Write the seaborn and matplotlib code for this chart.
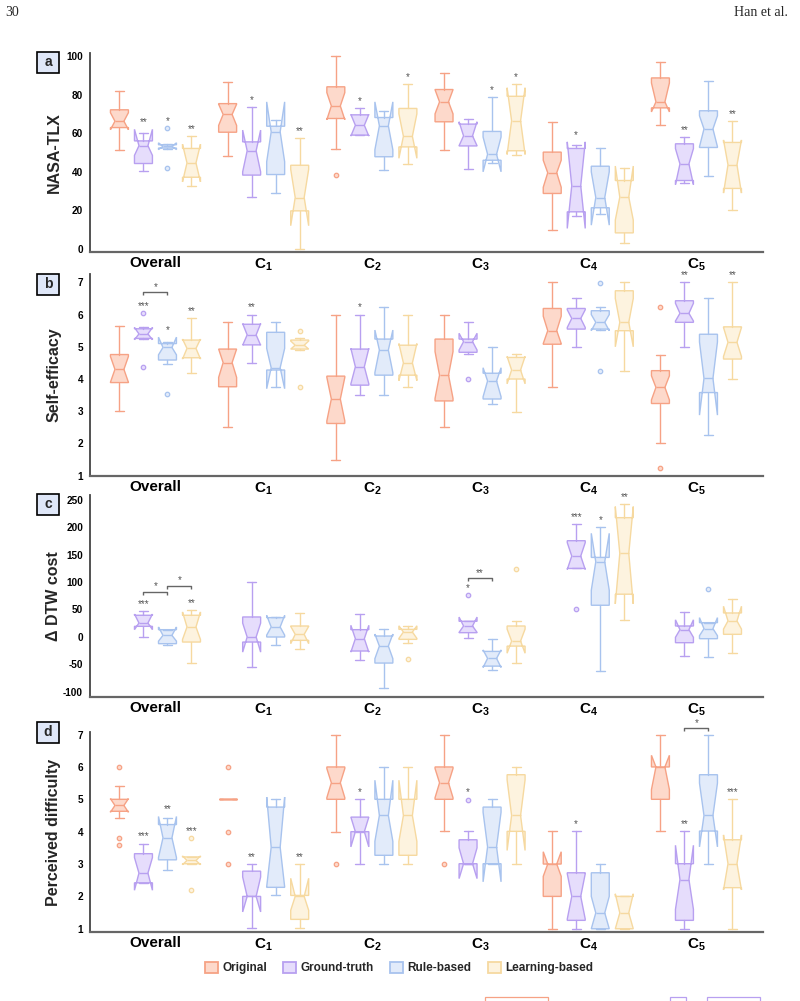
import matplotlib
matplotlib.use("Agg")
import matplotlib.pyplot as plt
import seaborn as sns
from matplotlib.patches import Patch, Rectangle

sns.set_theme(style="white")
plt.rcParams["font.family"] = ["Liberation Sans", "DejaVu Sans"]
plt.rcParams["mathtext.fontset"] = "custom"
plt.rcParams["mathtext.rm"] = "Liberation Sans"
plt.rcParams["mathtext.bf"] = "Liberation Sans:bold"
plt.rcParams["mathtext.it"] = "Liberation Sans:italic"

# ---------------- data ----------------
group_labels = ["Overall", r"$\mathbf{C_1}$", r"$\mathbf{C_2}$", r"$\mathbf{C_3}$",
                r"$\mathbf{C_4}$", r"$\mathbf{C_5}$"]
methods = ["Original", "Ground-truth", "Rule-based", "Learning-based"]

# Panel a: NASA-TLX  (rows: Overall, C1..C5; cols: Original, Ground-truth, Rule-based, Learning-based)
tlx_lo = [[51.4, 40.3, 52.0, 32.6], [48.3, 26.9, 29.1, 0.0], [51.6, 58.9, 40.9, 43.8],
          [51.2, 41.7, 44.7, 48.6], [9.8, 17.2, 18.4, 3.4], [64.1, 34.1, 37.8, 20.3]]
tlx_q1 = [[62.9, 44.3, 52.3, 37.2], [60.5, 38.3, 38.6, 19.8], [67.6, 59.0, 47.8, 52.9],
          [65.9, 53.4, 46.0, 50.9], [28.8, 19.3, 21.4, 8.4], [73.1, 35.5, 52.6, 31.4]]
tlx_med = [[66.2, 53.5, 53.2, 44.6], [69.7, 50.9, 60.7, 26.7], [74.1, 64.1, 63.8, 58.4],
           [76.2, 58.6, 49.1, 66.4], [39.5, 32.8, 26.7, 26.9], [76.2, 44.1, 62.2, 43.6]]
tlx_q3 = [[72.1, 56.0, 54.0, 52.1], [75.3, 55.5, 63.6, 43.4], [84.0, 69.5, 68.1, 72.8],
          [82.6, 64.7, 60.9, 79.1], [50.2, 52.1, 42.9, 35.5], [88.6, 54.5, 71.6, 55.2]]
tlx_hi = [[81.9, 60.2, 54.3, 58.6], [86.6, 73.4, 66.7, 57.6], [100.0, 72.8, 71.4, 85.5],
          [91.2, 67.4, 78.8, 85.5], [66.0, 53.8, 52.4, 42.1], [96.6, 58.1, 87.1, 66.4]]
tlx_cilo = [[61.8, 48.5, 51.5, 34.8], [64.0, 40.0, 45.2, 12.1], [67.0, 58.5, 51.4, 47.0],
            [70.0, 53.5, 40.0, 49.0], [32.0, 10.7, 12.4, 15.0], [71.0, 33.4, 53.0, 29.0]]
tlx_cihi = [[70.6, 62.0, 55.0, 54.3], [75.0, 61.6, 76.2, 41.3], [81.0, 69.7, 76.2, 70.0],
            [82.5, 65.9, 58.0, 83.5], [46.0, 55.5, 40.0, 43.0], [86.0, 52.0, 69.0, 56.5]]
tlx_fliers = [(0, 2, 62.8), (0, 2, 41.8), (2, 0, 38.1)]
tlx_stars = [(0, 1, "**"), (0, 2, "*"), (0, 3, "**"), (1, 1, "*"), (1, 3, "**"),
             (2, 1, "*"), (2, 3, "*"), (3, 2, "*"), (3, 3, "*"), (4, 1, "*"),
             (5, 1, "**"), (5, 3, "**")]
tlx_brackets = []

# Panel b: Self-efficacy
se_lo = [[3.0, 5.25, 4.46, 4.2], [2.5, 4.5, 3.76, 4.9], [1.5, 3.5, 3.5, 3.76],
         [2.5, 4.78, 3.24, 2.99], [3.76, 5.0, 5.52, 4.25], [2.0, 5.0, 2.26, 4.01]]
se_q1 = [[3.89, 5.26, 4.59, 4.66], [3.76, 5.06, 4.28, 4.93], [2.62, 3.81, 4.12, 4.12],
         [3.32, 4.83, 3.38, 4.0], [5.08, 5.55, 5.55, 5.5], [3.24, 5.76, 3.58, 4.62]]
se_med = [[4.30, 5.40, 4.98, 4.95], [4.51, 5.37, 4.35, 5.05], [3.38, 4.38, 4.9, 4.5],
          [4.12, 5.16, 3.94, 4.28], [5.5, 5.88, 5.76, 5.76], [3.74, 6.04, 4.02, 5.14]]
se_q3 = [[4.76, 5.56, 5.1, 5.21], [4.93, 5.7, 5.45, 5.21], [4.09, 4.93, 5.24, 5.05],
         [5.24, 5.24, 4.18, 4.67], [6.19, 6.19, 6.12, 6.74], [4.26, 6.43, 5.39, 5.62]]
se_hi = [[5.66, 5.6, 5.16, 5.9], [5.76, 6.0, 5.76, 5.26], [6.0, 6.0, 6.24, 6.0],
         [6.0, 5.76, 5.0, 4.77], [7.0, 6.5, 6.24, 7.0], [4.74, 7.0, 6.5, 7.0]]
se_cilo = [[3.9, 5.22, 4.75, 4.62], [4.05, 5.05, 3.7, 4.93], [2.7, 3.85, 4.2, 3.95],
           [3.4, 4.9, 3.45, 3.85], [5.1, 5.6, 5.5, 5.0], [3.35, 5.8, 2.88, 4.7]]
se_cihi = [[4.7, 5.6, 5.3, 5.24], [4.93, 5.72, 4.95, 5.18], [4.05, 4.95, 5.52, 5.1],
           [4.85, 5.42, 4.35, 4.7], [5.95, 6.15, 6.0, 6.5], [4.1, 6.35, 5.15, 5.6]]
se_fliers = [(0, 1, 6.05), (0, 1, 4.37), (0, 2, 3.53), (1, 3, 5.49), (1, 3, 3.74),
             (3, 1, 4.0), (4, 2, 6.99), (4, 2, 4.25), (5, 0, 6.23), (5, 0, 1.24)]
se_stars = [(0, 1, "***"), (0, 2, "*"), (0, 3, "**"), (1, 1, "**"), (2, 1, "*"),
            (5, 1, "**"), (5, 3, "**")]
se_brackets = [(0, 1, 2, 6.69, "*")]

# Panel c: delta DTW cost (no Original)
dtw_lo = [[None, -0.4, -15.7, -48.0], [None, -55.4, -14.5, -21.8], [None, -43.2, -93.9, -10.8],
          [None, -2.3, -60.3, -48.0], [None, 124.8, -62.7, 30.1], [None, -35.3, -37.1, -29.7]]
dtw_q1 = [[None, 19.1, -12.6, -9.6], [None, -9.6, -0.4, -6.5], [None, -26.0, -48.0, -4.7],
          [None, 7.5, -53.6, -17.0], [None, 124.8, 57.6, 77.8], [None, -10.8, -3.5, 4.5]]
dtw_med = [[None, 25.2, 2.6, 17.9], [None, -0.4, 17.9, 4.5], [None, -3.5, -17.0, 8.7],
           [None, 19.7, -39.5, -7.8], [None, 147.4, 137.0, 152.3], [None, 13.0, 14.8, 28.9]]
dtw_q3 = [[None, 39.3, 13.0, 39.3], [None, 36.2, 35.0, 19.7], [None, 13.0, 1.4, 13.6],
          [None, 28.3, -26.7, 19.7], [None, 175.5, 145.0, 217.6], [None, 19.7, 25.8, 43.5]]
dtw_hi = [[None, 47.2, 13.0, 48.4], [None, 100.4, 36.2, 43.5], [None, 42.3, 13.6, 19.7],
          [None, 28.3, -4.1, 28.3], [None, 206.0, 200.0, 242.0], [None, 45.4, 25.8, 69.8]]
dtw_cilo = [[None, 13.0, -8.0, -5.0], [None, -28.0, 3.0, -12.6], [None, -28.0, -40.0, -3.0],
            [None, 8.0, -56.0, -30.0], [None, 123.0, 85.0, 60.0], [None, -1.0, 2.0, 14.0]]
dtw_cihi = [[None, 41.5, 17.9, 45.4], [None, 25.0, 39.0, 19.0], [None, 21.0, 5.0, 20.0],
            [None, 36.0, -24.0, 14.0], [None, 172.0, 189.0, 237.8], [None, 31.0, 35.0, 55.8]]
dtw_fliers = [(2, 3, -40.1), (3, 1, 75.9), (3, 3, 123.6), (4, 1, 51.5), (5, 2, 86.9)]
dtw_stars = [(0, 1, "***"), (0, 3, "**"), (3, 1, "*"), (4, 1, "***"), (4, 2, "*"), (4, 3, "**")]
dtw_brackets = [(0, 1, 2, 81.4, "*"), (0, 2, 3, 93.6, "*"), (3, 1, 2, 106.5, "**")]

# Panel d: Perceived difficulty
pd_lo = [[4.42, 2.42, 2.82, 3.01], [5.0, 1.03, 2.03, 1.03], [3.99, 2.99, 2.99, 2.99],
         [4.01, 3.01, 3.01, 3.01], [1.0, 1.0, 1.0, 1.0], [4.01, 1.0, 3.01, 1.0]]
pd_q1 = [[4.63, 2.42, 3.13, 3.01], [5.0, 2.0, 2.28, 1.29], [5.0, 4.0, 3.27, 3.27],
         [5.0, 3.01, 3.01, 4.01], [2.0, 1.26, 1.0, 1.0], [5.0, 1.26, 4.02, 2.27]]
pd_med = [[4.81, 2.72, 3.81, 3.11], [5.0, 2.0, 3.52, 2.0], [5.51, 4.0, 4.5, 4.5],
          [5.51, 3.01, 3.53, 4.5], [3.0, 2.0, 1.49, 1.49], [6.0, 2.52, 4.5, 3.01]]
pd_q3 = [[5.0, 3.32, 4.22, 3.22], [5.0, 2.78, 4.76, 2.03], [6.0, 4.45, 5.0, 5.0],
         [6.0, 3.75, 4.76, 5.76], [3.0, 2.73, 2.73, 2.0], [6.0, 3.01, 5.76, 3.75]]
pd_hi = [[5.41, 3.63, 4.43, 3.22], [5.0, 3.01, 5.02, 3.01], [7.0, 5.0, 6.0, 6.0],
         [7.0, 4.01, 5.0, 6.0], [4.01, 4.01, 3.01, 2.0], [7.0, 4.01, 7.0, 5.0]]
pd_cilo = [[4.6, 2.19, 3.2, 2.98], [5.0, 1.52, 2.3, 1.57], [5.05, 3.53, 3.7, 3.7],
           [5.05, 2.55, 2.45, 3.42], [2.62, 1.3, 1.0, 1.0], [5.3, 1.6, 3.53, 2.2]]
pd_cihi = [[5.02, 3.2, 4.47, 3.25], [5.0, 2.6, 5.07, 2.56], [5.95, 4.45, 5.59, 5.59],
           [5.95, 3.5, 4.6, 5.6], [3.38, 2.7, 2.0, 2.08], [6.36, 3.58, 5.5, 3.9]]
pd_fliers = [(0, 0, 6.0), (0, 0, 3.8), (0, 0, 3.6), (0, 3, 3.8), (0, 3, 2.21),
             (1, 0, 6.0), (1, 0, 4.0), (1, 0, 3.0), (2, 0, 2.99), (3, 0, 2.99), (3, 1, 4.99)]
pd_stars = [(0, 1, "***"), (0, 2, "**"), (0, 3, "***"), (1, 1, "**"), (1, 3, "**"),
            (2, 1, "*"), (3, 1, "*"), (4, 1, "*"), (5, 1, "**"), (5, 3, "***")]
pd_brackets = [(5, 1, 2, 7.19, "*")]

# ---------------- style ----------------
edge_colors = ["#f6a285", "#b8a0f0", "#a8c3ee", "#f6d9a0"]
fill_colors = ["#fdd9cb", "#e6ddfc", "#e2ebfa", "#fdf3df"]
star_color = "#555555"

W, H = 800, 1001
fig = plt.figure(figsize=(W / 100, H / 100), dpi=100)

GAP = 0.222   # box spacing within group (in group units)
BW = 0.166    # box width

def px_axes(left, top, right, bottom):
    return [left / W, 1 - bottom / H, (right - left) / W, (bottom - top) / H]

panels = [
    dict(name="a", ylabel="NASA-TLX", rect=px_axes(90, 53, 763, 252), ylim=(-1.5, 101.5),
         yticks=[0, 20, 40, 60, 80, 100], lo=tlx_lo, q1=tlx_q1, med=tlx_med, q3=tlx_q3,
         hi=tlx_hi, cilo=tlx_cilo, cihi=tlx_cihi, fliers=tlx_fliers, stars=tlx_stars,
         brackets=tlx_brackets, label_y=62.5),
    dict(name="b", ylabel="Self-efficacy", rect=px_axes(90, 274, 763, 476), ylim=(0.99, 7.26),
         yticks=[1, 2, 3, 4, 5, 6, 7], lo=se_lo, q1=se_q1, med=se_med, q3=se_q3,
         hi=se_hi, cilo=se_cilo, cihi=se_cihi, fliers=se_fliers, stars=se_stars,
         brackets=se_brackets, label_y=284),
    dict(name="c", ylabel="\u0394 DTW cost", rect=px_axes(90, 495, 763, 697), ylim=(-110, 259),
         yticks=[-100, -50, 0, 50, 100, 150, 200, 250], lo=dtw_lo, q1=dtw_q1, med=dtw_med,
         q3=dtw_q3, hi=dtw_hi, cilo=dtw_cilo, cihi=dtw_cihi, fliers=dtw_fliers,
         stars=dtw_stars, brackets=dtw_brackets, label_y=504),
    dict(name="d", ylabel="Perceived difficulty", rect=px_axes(90, 732, 763, 932), ylim=(0.9, 7.08),
         yticks=[1, 2, 3, 4, 5, 6, 7], lo=pd_lo, q1=pd_q1, med=pd_med, q3=pd_q3,
         hi=pd_hi, cilo=pd_cilo, cihi=pd_cihi, fliers=pd_fliers, stars=pd_stars,
         brackets=pd_brackets, label_y=732.5),
]

def pos(g, m):
    return g + (m - 1.5) * GAP

for P in panels:
    ax = fig.add_axes(P["rect"])
    ax.set_xlim(-0.605, 5.615)
    ax.set_ylim(*P["ylim"])
    ax_h_px = P["rect"][3] * H
    units_per_px = (P["ylim"][1] - P["ylim"][0]) / ax_h_px

    tops = {}
    for m in range(4):
        stats, positions = [], []
        for g in range(6):
            if P["med"][g][m] is None:
                continue
            fl = [v for (gg, mm, v) in P["fliers"] if gg == g and mm == m]
            stats.append(dict(med=P["med"][g][m], q1=P["q1"][g][m], q3=P["q3"][g][m],
                              whislo=P["lo"][g][m], whishi=P["hi"][g][m],
                              cilo=P["cilo"][g][m], cihi=P["cihi"][g][m], fliers=fl))
            positions.append(pos(g, m))
            tops[(g, m)] = max([P["hi"][g][m], P["cihi"][g][m]] + fl)
        ec, fc = edge_colors[m], fill_colors[m]
        ax.bxp(stats, positions=positions, widths=BW, shownotches=True, patch_artist=True,
               boxprops=dict(facecolor=fc, edgecolor=ec, linewidth=1.0),
               medianprops=dict(color=ec, linewidth=1.0),
               whiskerprops=dict(color=ec, linewidth=1.0),
               capprops=dict(color=ec, linewidth=1.0),
               flierprops=dict(marker="o", markersize=3.2, markerfacecolor=fc,
                               markeredgecolor=ec, markeredgewidth=0.9),
               manage_ticks=False)

    for (g, m, s) in P["stars"]:
        ax.annotate(s, xy=(pos(g, m), tops[(g, m)]), xytext=(0, 1.5),
                    textcoords="offset points", ha="center", va="bottom",
                    fontsize=7, color=star_color, annotation_clip=False)

    for (g, m1, m2, y, s) in P["brackets"]:
        d = 3 * units_per_px
        x1, x2 = pos(g, m1), pos(g, m2)
        ax.plot([x1, x1, x2, x2], [y - d, y, y, y - d], color="#666666", lw=1.0,
                clip_on=False, solid_capstyle="butt")
        ax.annotate(s, xy=((x1 + x2) / 2, y), xytext=(0, 0.5), textcoords="offset points",
                    ha="center", va="bottom", fontsize=7, color=star_color,
                    annotation_clip=False)

    ax.set_xticks(range(6))
    ax.set_xticklabels(group_labels, fontsize=11, fontweight="bold")
    ax.set_yticks(P["yticks"])
    ax.set_yticklabels([str(t) for t in P["yticks"]], fontsize=7.2, fontweight="bold")
    ax.tick_params(axis="both", length=0, colors="black")
    ax.tick_params(axis="y", pad=5)
    ax.tick_params(axis="x", pad=3)
    for side in ["top", "right"]:
        ax.spines[side].set_visible(False)
    ax.spines["left"].set_color("#444444")
    ax.spines["left"].set_linewidth(1.3)
    ax.spines["bottom"].set_color("#666666")
    ax.spines["bottom"].set_linewidth(1.6)
    ax.grid(False)
    ax.set_facecolor("white")

    fig.text(54 / W, P["rect"][1] + P["rect"][3] / 2, P["ylabel"], rotation=90,
             ha="center", va="center", fontsize=11.5, fontweight="bold")

    # panel label box
    ly = P["label_y"]
    fig.patches.append(Rectangle((37 / W, 1 - (ly + 10.5) / H), 22 / W, 21 / H,
                                 transform=fig.transFigure, facecolor="#dfe7f8",
                                 edgecolor="black", linewidth=1.2))
    fig.text(48 / W, 1 - ly / H, P["name"], ha="center", va="center", fontsize=10,
             fontweight="bold")

# legend
handles = [Patch(facecolor=fill_colors[i], edgecolor=edge_colors[i], linewidth=1.3, label=methods[i])
           for i in range(4)]
fig.legend(handles=handles, loc="center", bbox_to_anchor=(399 / W, 1 - 968 / H), ncol=4,
           frameon=False, prop=dict(weight="bold", size=8.5),
           handlelength=1.1, handleheight=1.1, handletextpad=0.35, columnspacing=1.4)

# page header
fig.text(5 / W, 1 - 12 / H, "30", family="Liberation Serif", fontsize=10, ha="left", va="center")
fig.text(788 / W, 1 - 12 / H, "Han et al.", family="Liberation Serif", fontsize=10,
         ha="right", va="center")

# clipped page fragments at the very bottom
for (x0, x1, c) in [(485, 548, "#f6a285"), (670, 686, "#b8a0f0"), (707, 760, "#b8a0f0")]:
    fig.patches.append(Rectangle((x0 / W, -0.01), (x1 - x0) / W, (1001 - 997) / H + 0.01,
                                 transform=fig.transFigure, facecolor="none",
                                 edgecolor=c, linewidth=0.9))

fig.savefig("out.png", dpi=100, facecolor="white")
